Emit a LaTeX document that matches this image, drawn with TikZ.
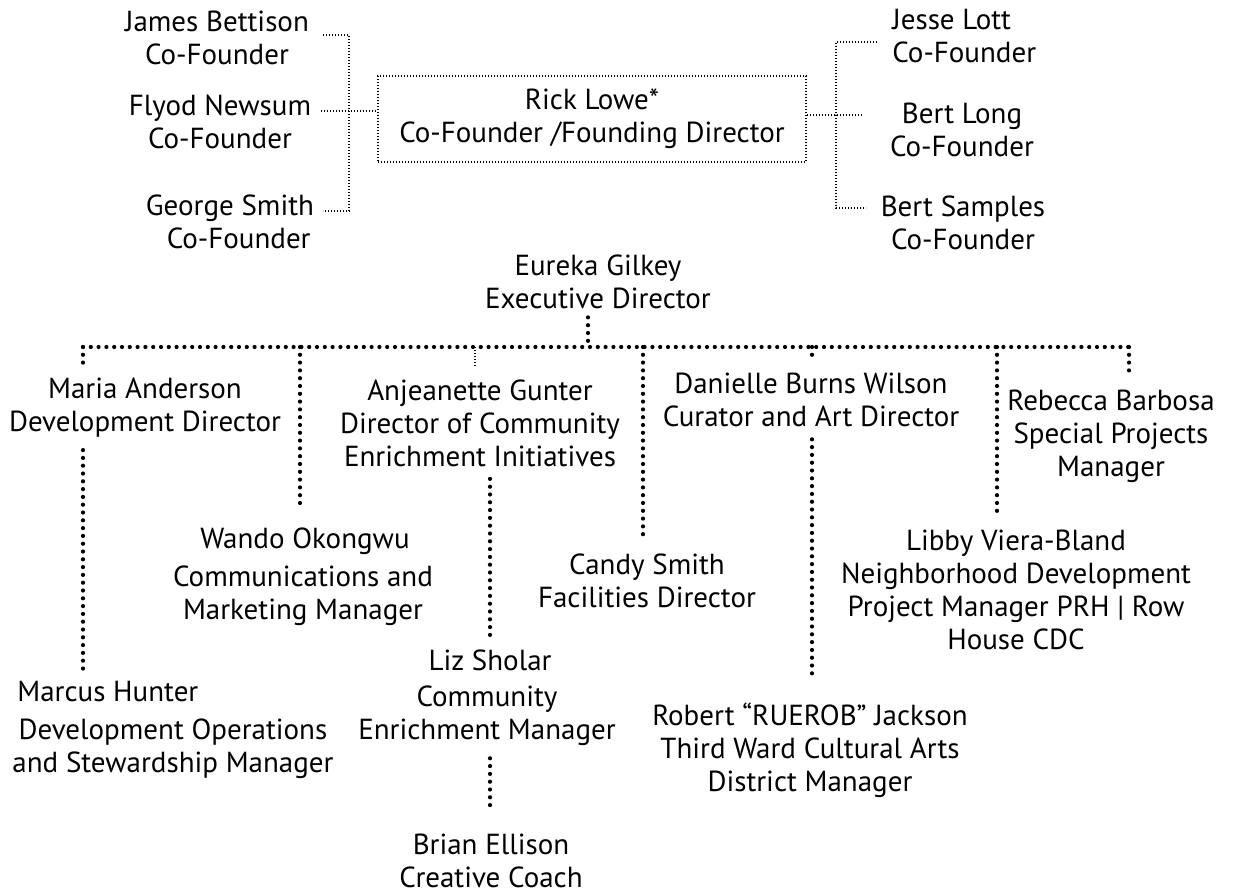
\documentclass[tikz,border=0pt]{standalone}
\usepackage{fontspec}
\setmainfont{PT Sans}
\usetikzlibrary{positioning, calc}
\tikzset{
  person/.style = {align=center, inner sep=0pt,
                   font=\fontsize{14.5}{16.5}\selectfont},
  fine/.style   = {line width=0.8pt, dash pattern=on 0.7pt off 0.8pt},
  dots/.style   = {line width=2.1pt, line cap=round, dash pattern=on 0pt off 3.9pt}
}

\begin{document}
\begin{tikzpicture}[x=0.5pt, y=-0.5pt]
  \useasboundingbox (0,0) rectangle (1239,893);

  % ── founders ──────────────────────────────────────────────────────────────
  \node[person, draw, fine, minimum width=214pt, minimum height=43pt]
        (RL) at (592,119) {Rick Lowe*\\Co-Founder /Founding Director};
  \node[person] (JB) at (217,38)  {James Bettison\\Co-Founder};
  \node[person] (FN) at (220,122) {Flyod Newsum\\Co-Founder};
  \node[person] (GS) at (230,222) {George Smith\\\hspace*{0.6em}Co-Founder};
  \node[person, align=left, anchor=west] (JL) at (892,36) {Jesse Lott\\Co-Founder};
  \node[person] (BL) at (962,130) {Bert Long\\Co-Founder};
  \node[person] (BS) at (963,223) {Bert Samples\\Co-Founder};

  \coordinate (jbT)  at (323,35);
  \coordinate (fnT)  at (321,111);
  \coordinate (gsT)  at (323,211);
  \coordinate (lbus) at (349,111);
  \draw[fine] (jbT) -| (lbus) |- (gsT);
  \draw[fine] (fnT) -- (fnT -| RL.west);

  \coordinate (jlT)  at (877,42);
  \coordinate (blT)  at (862,115);
  \coordinate (bsT)  at (866,208);
  \coordinate (rbus) at (836,115);
  \draw[fine] (jlT) -| (rbus) |- (bsT);
  \draw[fine] (RL.east |- blT) -- (blT);

  % ── executive director and staff ──────────────────────────────────────────
  \node[person] (EG) at (598,282) {Eureka Gilkey\\Executive Director};
  \node[person] (MA) at (145,408) {Maria Anderson\\Development Director};
  \node[person] (AG) at (480,423) {Anjeanette Gunter\\Director of Community\\Enrichment Initiatives};
  \node[person] (DW) at (811,400) {Danielle Burns Wilson\\Curator and Art Director};
  \node[person] (RB) at (1111,436) {Rebecca Barbosa\\Special Projects\\Manager};
  \node[person] (WOn) at (305,541) {Wando Okongwu};
  \node[person] (WO)  at (303,596) {Communications and\\Marketing Manager};
  \node[person] (CS) at (647,581) {Candy Smith\\Facilities Director};
  \node[person] (LB) at (1016,590) {Libby Viera-Bland\\Neighborhood Development\\Project Manager PRH | Row\\House CDC};
  \node[person, anchor=west] (MHn) at (17,692) {Marcus Hunter};
  \node[person] (MH) at (173,749) {Development Operations\\and Stewardship Manager};
  \node[person] (LSn) at (490,660) {Liz Sholar};
  \node[person] (LS) at (487,716) {Community\\Enrichment Manager};
  \node[person] (RJ) at (810,750) {Robert “RUEROB” Jackson\\Third Ward Cultural Arts\\District Manager};
  \node[person] (BE) at (491,861) {Brian Ellison\\Creative Coach};

  \coordinate (hub)  at (588,347);
  \coordinate (busW) at (83,347);
  \coordinate (busE) at (1129,347);
  \coordinate (dWO)  at (300,347);
  \coordinate (dAG)  at (475,347);
  \coordinate (dCS)  at (643,347);
  \coordinate (dDW)  at (812,347);
  \coordinate (dLB)  at (997,347);

  \draw[dots, shorten <=4pt] (EG.south -| hub) -- (hub);
  \draw[dots] (busW) -- (busE);
  \draw[dots, shorten >=6pt]  (busW) -- (busW |- MA.north);
  \draw[dots, shorten >=10pt] (dWO)  -- (dWO |- WOn.north);
  \draw[fine, shorten >=6pt]  (dAG)  -- (dAG |- AG.north);
  \draw[dots, shorten >=6pt]  (dCS)  -- (dCS |- CS.north);
  \draw[dots, shorten >=6pt]  (dDW)  -- (dDW |- DW.north);
  \draw[dots, shorten >=9pt]  (dLB)  -- (dLB |- LB.north);
  \draw[dots, shorten >=8pt]  (busE) -- (busE |- RB.north);

  % ── second level ──────────────────────────────────────────────────────────
  \draw[dots, shorten <=6pt, shorten >=3pt] (busW |- MA.south) -- (busW |- MHn.north);
  \draw[dots, shorten <=6pt, shorten >=5pt] (LSn.north |- AG.south) -- (LSn.north);
  \draw[dots, shorten <=6pt, shorten >=12pt] (dDW |- DW.south) -- (dDW |- RJ.north);
  \draw[dots, shorten <=6pt, shorten >=12pt] (LSn.north |- LS.south) -- (LSn.north |- BE.north);

\end{tikzpicture}
\end{document}
